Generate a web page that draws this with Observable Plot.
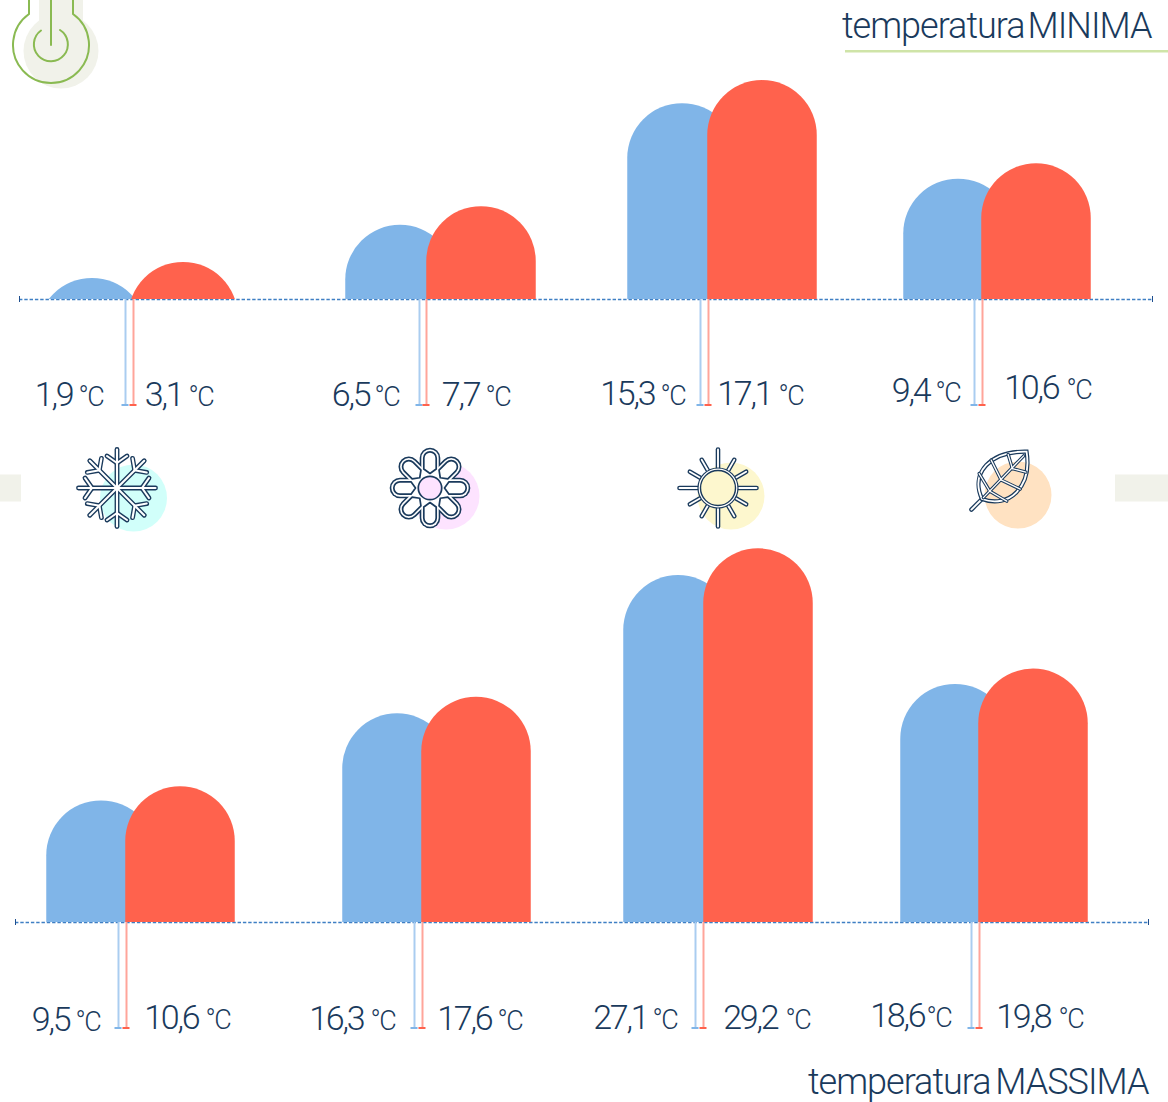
<!DOCTYPE html>
<html><head><meta charset="utf-8">
<style>
html,body{margin:0;padding:0;background:#fff}
#page{position:relative;width:1168px;height:1102px;overflow:hidden;background:#fff}
#page svg{position:absolute;left:0;overflow:visible}
.num{letter-spacing:-2.2px}
.unit{letter-spacing:-1.5px}
.head{letter-spacing:-1px}
</style>
<script src="https://cdn.jsdelivr.net/npm/d3@7"></script>
<script src="https://cdn.jsdelivr.net/npm/@observablehq/plot@0.6"></script>
</head><body><div id="page"></div>
<script>
const seasons = ["inverno","primavera","estate","autunno"];
// values printed on the chart
const minimaBlue = [1.9, 6.5, 15.3, 9.4];
const minimaRed  = [3.1, 7.7, 17.1, 10.6];
const massimaBlue = [9.5, 16.3, 27.1, 18.6];
const massimaRed  = [10.6, 17.6, 29.2, 19.8];
// bar heights, in degrees (the two shortest groups of the minima are drawn below their labels)
const minimaBlueDrawn = [1.65, 5.8, 15.3, 9.4];
const minimaRedDrawn  = [2.9, 7.25, 17.1, 10.6];

const BLUE="#80b5e8", RED="#ff624d", INK="#1a3a5c", BEIGE="#f1f2ea", GREEN="#8aba52";
const FONT="Roboto";
const pxPerDegree=12.8, barWidth=109.5;

const layoutMin={top:0,height:540,base:299,bottom:405,axis:[19,1152],
  blue:[92,400,682,958],red:[183,481,762,1036],stemB:[125,419,700,974],stemR:[133,426,708,982],
  numEndB:[72,369,654,929],unitB:[78,374,660,935],numEndR:[182,479,771,1058],unitR:[188,485,778,1066],
  lineB:[405,405,404,401],lineR:[405,405,404,398]};
const layoutMax={top:540,height:562,base:922,bottom:1028,axis:[15,1148],
  blue:[101,397,678,955],red:[180,476,758,1033],stemB:[118,414,695,971],stemR:[126,422,703,979],
  numEndB:[69,363,647,924],unitB:[75,370,652,926],numEndR:[198,491,777,1050],unitR:[205,497,785,1058],
  lineB:[1030,1029,1028,1026],lineR:[1028,1029,1028,1027]};

function svgG(build){
  return (index,scales,values,dim,ctx)=>{
    const g=d3.select(ctx.document.createElementNS("http://www.w3.org/2000/svg","g"));
    build(g); return g.node();
  };
}
const line=(g,x1,y1,x2,y2,w,c)=>g.append("line").attr("x1",x1).attr("y1",y1).attr("x2",x2).attr("y2",y2)
  .attr("stroke",c).attr("stroke-width",w).attr("stroke-linecap","round");

function snowflake(g){
  const node=g.append("g").attr("transform","translate(117,488)");
  const pass=(w,c)=>{ for(let a=0;a<360;a+=45){
    const r=node.append("g").attr("transform",`rotate(${a})`);
    line(r,0,0,0,-38.5,w,c); line(r,0,-25,-10,-32,w,c); line(r,0,-25,10,-32,w,c);
  }};
  pass(4.8,INK); pass(2.1,"#fff");
}
function flower(g){
  const node=g.append("g").attr("transform","translate(430,488)");
  const pass=(w,c)=>{ for(let a=0;a<360;a+=45){
    const r=node.append("g").attr("transform",`rotate(${a})`);
    line(r,0,-12,0,-30,w,c);
  }};
  pass(20.6,INK); pass(17.4,"#fff");
  for(let a=0;a<360;a+=45){
    node.append("path").attr("transform",`rotate(${a})`)
      .attr("d","M-6.2,-19 L0,-14.5 L6.2,-19 L6.2,-30 A6.2,6.2 0 0 0 -6.2,-30 Z")
      .attr("fill","#fff").attr("stroke",INK).attr("stroke-width",1.7).attr("stroke-linejoin","round");
  }
  node.append("circle").attr("r",11.7).attr("fill","#fde3ff").attr("stroke",INK).attr("stroke-width",1.7);
}
function sun(g){
  const node=g.append("g").attr("transform","translate(718,488)");
  const pass=(w,c)=>{ for(let a=0;a<360;a+=30){
    const r=node.append("g").attr("transform",`rotate(${a})`);
    line(r,0,-19,0,a%90===0?-38.5:-32.5,w,c);
  }};
  pass(4.6,INK); pass(1.9,"#fff");
  node.append("circle").attr("r",20).attr("fill","#fff").attr("stroke",INK).attr("stroke-width",1.2);
  node.append("circle").attr("r",17.5).attr("fill","#fdf7ce").attr("stroke",INK).attr("stroke-width",1.4);
}
function leaf(g){
  const node=g.append("g").attr("transform","translate(982,499) rotate(-45)");
  const shape="M0,0 C10,-27 40,-28 65,-2 C44,27 12,26 0,0 Z";
  line(node,0,0,-15,0,4.4,INK); line(node,0,0,-15,0,1.9,"#fff");
  node.append("path").attr("d",shape).attr("fill","none").attr("stroke",INK).attr("stroke-width",4.2);
  node.append("path").attr("d",shape).attr("fill","none").attr("stroke","#fff").attr("stroke-width",1.8);
  const vein=(w,c)=>{
    line(node,2,0,60,-1,w,c);
    [[16,-20,11],[34,-21,27],[50,-13,43]].forEach(([x,y,x0])=>line(node,x0,0,x,y,w,c));
    [[16,19,11],[34,20,27],[50,12,43]].forEach(([x,y,x0])=>line(node,x0,0,x,y,w,c));
  };
  vein(3.4,INK); vein(1.3,"#fff");
}
function thermometer(g){
  g.append("path").attr("fill","none").attr("stroke",GREEN).attr("stroke-width",2)
    .attr("d","M29,-2 V14 A38,38 0 1 0 73,14 V-2");
  g.append("path").attr("fill","none").attr("stroke",GREEN).attr("stroke-width",2).attr("stroke-linecap","round")
    .attr("d","M41,30.5 A17,17 0 1 0 60,30");
  line(g,51,-2,51,45,2,GREEN);
}

function panel(L,blue,red,blueDrawn,redDrawn,extra){
  const k=pxPerDegree, H=L.height, b=L.base-L.top;
  const deg=px=>(L.base-px)/k;
  const idx=d3.range(seasons.length);
  const barData=(vals,centers)=>idx.map(i=>({season:seasons[i],v:vals[i],c:centers[i]}));
  const dome=(vals,centers,fill)=>Plot.rect(barData(vals,centers),{
    x1:d=>d.c-barWidth/2,x2:d=>d.c+barWidth/2,y1:-12,y2:"v",fill,rx:barWidth/2,ry:barWidth/2,clip:"frame"});
  const stems=(xs,color,light)=>[
    Plot.ruleX(xs,{x:d=>d,y1:0,y2:deg(L.bottom),stroke:light,strokeWidth:2}),
    Plot.rect(xs,{x1:d=>d-3.5,x2:d=>d+3.5,y1:deg(L.bottom-1),y2:deg(L.bottom+1),fill:color})];
  const nums=(vals,ends,lines)=>Plot.text(idx,{x:i=>ends[i],y:i=>deg(lines[i]),text:i=>vals[i].toFixed(1).replace(".",","),
    textAnchor:"end",lineAnchor:"bottom",fontSize:34,fontWeight:300,fill:INK,className:"num"});
  const units=(xs,lines)=>Plot.text(idx,{x:i=>xs[i],y:i=>deg(lines[i]),text:()=>"°C",
    textAnchor:"start",lineAnchor:"bottom",fontSize:27,fontWeight:300,fill:INK,className:"unit"});
  return Plot.plot({
    width:1168,height:H,marginTop:0,marginLeft:0,marginRight:0,marginBottom:H-b,
    style:{fontFamily:FONT,background:"transparent",position:"absolute",top:L.top+"px"},
    x:{domain:[0,1168],range:[0,1168],axis:null},
    y:{domain:[0,b/k],range:[b,0],axis:null},
    marks:[
      ...(extra.before||[]),
      Plot.ruleY([0],{x1:L.axis[0],x2:L.axis[1],stroke:"#3f7fc4",strokeWidth:1.3,strokeDasharray:"3.4 1.9"}),
      Plot.ruleX(L.axis,{x:d=>d,y1:deg(L.base+3),y2:deg(L.base-3),stroke:"#1f4f8f",strokeWidth:1}),
      dome(blueDrawn,L.blue,BLUE),
      dome(redDrawn,L.red,RED),
      ...stems(L.stemB,BLUE,"#aacdf0"),
      ...stems(L.stemR,RED,"#ffa59a"),
      nums(blue,L.numEndB,L.lineB),units(L.unitB,L.lineB),
      nums(red,L.numEndR,L.lineR),units(L.unitR,L.lineR),
      ...(extra.after||[])
    ]
  });
}
const titleFont={fontSize:36,fontWeight:300,fill:INK,lineAnchor:"bottom",className:"head"};
const pxYmin=px=>(299-px)/pxPerDegree, pxYmax=px=>(922-px)/pxPerDegree;
const iconDiscs=[{c:"#d1fffa",x:133,y:497.5},{c:"#fde3ff",x:445.5,y:495.5},{c:"#fdf7ce",x:730.5,y:495.5},{c:"#ffe2c2",x:1017.5,y:494.5}];

const minimaPlot=panel(layoutMin,minimaBlue,minimaRed,minimaBlueDrawn,minimaRedDrawn,{
 before:[
  Plot.dot([0],{x:60.5,y:pxYmin(50.5),r:37.5,fill:BEIGE}),
  Plot.rect([0],{x1:39,x2:83,y1:pxYmin(50),y2:pxYmin(-5),fill:BEIGE}),
  svgG(thermometer),
  Plot.rect([[0,21],[1115,1168]],{x1:d=>d[0],x2:d=>d[1],y1:pxYmin(474.5),y2:pxYmin(501.5),fill:BEIGE}),
  Plot.dot(iconDiscs,{x:"x",y:d=>pxYmin(d.y),r:33.5,fill:"c"}),
  svgG(snowflake),svgG(flower),svgG(sun),svgG(leaf),
  Plot.rect([0],{x1:845,x2:1168,y1:pxYmin(50),y2:pxYmin(52.5),fill:"#cfe4a8"})
 ],
 after:[
  Plot.text(["temperatura"],{x:1024,y:pxYmin(37),textAnchor:"end",...titleFont}),
  Plot.text(["MINIMA"],{x:1151,y:pxYmin(37),textAnchor:"end",...titleFont})
 ]});
const massimaPlot=panel(layoutMax,massimaBlue,massimaRed,massimaBlue,massimaRed,{after:[
  Plot.text(["temperatura"],{x:990,y:pxYmax(1093),textAnchor:"end",...titleFont}),
  Plot.text(["MASSIMA"],{x:1148,y:pxYmax(1093),textAnchor:"end",...titleFont})
 ]});
document.getElementById("page").append(minimaPlot,massimaPlot);
</script></body></html>
